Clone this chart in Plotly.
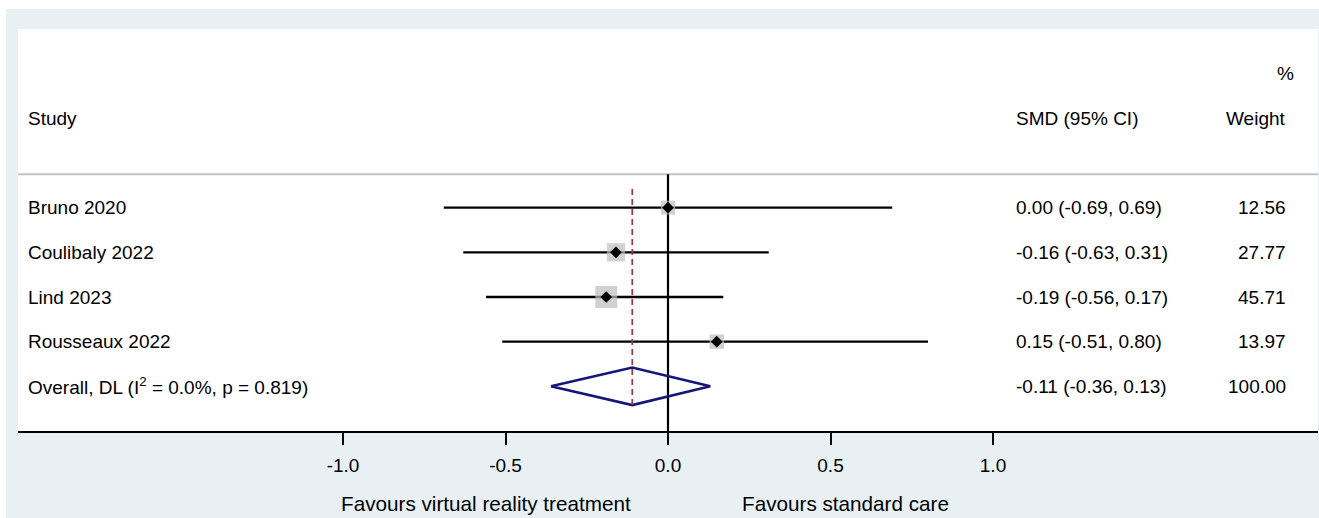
import plotly.graph_objects as go

# ---- data ----
studies = ["Bruno 2020", "Coulibaly 2022", "Lind 2023", "Rousseaux 2022"]
smd = [0.00, -0.16, -0.19, 0.15]
ci_low = [-0.69, -0.63, -0.56, -0.51]
ci_high = [0.69, 0.31, 0.17, 0.80]
weights = [12.56, 27.77, 45.71, 13.97]
overall_label = "Overall, DL (I<sup>2</sup> = 0.0%, p = 0.819)"
overall_smd = -0.11
overall_low = -0.36
overall_high = 0.13
overall_weight = 100.00
tick_vals = [-1.0, -0.5, 0.0, 0.5, 1.0]
left_favour = "Favours virtual reality treatment"
right_favour = "Favours standard care"

# ---- style ----
W, H = 1319, 518
ML, MR, MT, MB = 18, 1, 29, 87
BG = "#e9f0f3"
FONT = "Liberation Sans, Arial, Helvetica, sans-serif"
FS = 19
FS_FAV = 20.7
NAVY = "#15157a"
MAROON = "#a0353b"
SQ = "#bdbdbd"

pw = W - ML - MR
ph = H - MT - MB

def px_x(p):
    return (p - ML) / pw

def px_y(p):
    return (H - MB - p) / ph

n = len(studies)
rows = list(range(n))
ov_row = n

fig = go.Figure()

# CI lines
for i in rows:
    fig.add_trace(go.Scatter(x=[ci_low[i], ci_high[i]], y=[i, i], mode="lines",
                             line=dict(color="black", width=2.4), hoverinfo="skip",
                             showlegend=False))

# weight squares
fig.add_trace(go.Scatter(x=smd, y=rows, mode="markers",
                         marker=dict(symbol="square", color=SQ,
                                     size=[5.2 + 2.48 * (w ** 0.5) for w in weights],
                                     line=dict(width=0)),
                         hoverinfo="skip", showlegend=False))
# point estimates
fig.add_trace(go.Scatter(x=smd, y=rows, mode="markers",
                         marker=dict(symbol="diamond", color="black", size=9,
                                     line=dict(width=0)),
                         hoverinfo="skip", showlegend=False))

# overall diamond
dh = 0.42
fig.add_trace(go.Scatter(x=[overall_low, overall_smd, overall_high, overall_smd, overall_low],
                         y=[ov_row, ov_row - dh, ov_row, ov_row + dh, ov_row],
                         mode="lines", line=dict(color=NAVY, width=2.6),
                         hoverinfo="skip", showlegend=False))

shapes = []
# zero line
shapes.append(dict(type="line", xref="x", yref="y", x0=0, x1=0, y0=-0.75, y1=5.0,
                   line=dict(color="black", width=2.2), layer="below"))
# overall dashed line
shapes.append(dict(type="line", xref="x", yref="y", x0=overall_smd, x1=overall_smd,
                   y0=-0.42, y1=ov_row + dh, line=dict(color=MAROON, width=1.7, dash="6px,4px")))
# header separator
shapes.append(dict(type="line", xref="paper", yref="y", x0=0, x1=1, y0=-0.75, y1=-0.75,
                   line=dict(color="#c4c4c4", width=2), layer="below"))
# white outer strips (left and top)
shapes.append(dict(type="rect", xref="paper", yref="paper", x0=px_x(0), x1=px_x(6),
                   y0=px_y(H), y1=px_y(0), fillcolor="white", line=dict(width=0), layer="below"))
shapes.append(dict(type="rect", xref="paper", yref="paper", x0=px_x(0), x1=px_x(W),
                   y0=px_y(9), y1=px_y(0), fillcolor="white", line=dict(width=0), layer="below"))

annotations = []
def txt(x, y, s, anchor="left", xref="x", yref="y", size=FS):
    annotations.append(dict(x=x, y=y, xref=xref, yref=yref, text=s, showarrow=False,
                            xanchor=anchor, yanchor="middle",
                            font=dict(family=FONT, size=size, color="black")))

x_study = -1.975
x_smd = 1.064
x_wt = 1.908

txt(x_study, -2, "Study")
txt(x_smd, -2, "SMD (95% CI)")
txt(x_wt, -2, "Weight", "right")
txt(1.932, -3, "%", "right")

for i in rows:
    txt(x_study, i, studies[i])
    txt(x_smd, i, f"{smd[i]:.2f} ({ci_low[i]:.2f}, {ci_high[i]:.2f})")
    txt(x_wt, i, f"{weights[i]:.2f}", "right")

txt(x_study, ov_row, overall_label)
txt(x_smd, ov_row, f"{overall_smd:.2f} ({overall_low:.2f}, {overall_high:.2f})")
txt(x_wt, ov_row, f"{overall_weight:.2f}", "right")

txt(-0.108, px_y(503), left_favour, "right", yref="paper", size=FS_FAV)
txt(0.222, px_y(503), right_favour, "left", yref="paper", size=FS_FAV)

fig.update_layout(
    width=W, height=H,
    margin=dict(l=ML, r=MR, t=MT, b=MB, pad=0),
    paper_bgcolor=BG, plot_bgcolor="white",
    shapes=shapes, annotations=annotations,
    font=dict(family=FONT, size=FS, color="black"),
    xaxis=dict(range=[-2.0, 2.0], tickvals=tick_vals,
               ticktext=[f"{v:.1f}" for v in tick_vals],
               ticks="outside", ticklen=12, tickwidth=2, tickcolor="black",
               ticklabelstandoff=4,
               showline=True, linecolor="black", linewidth=2,
               showgrid=False, zeroline=False, fixedrange=True,
               tickfont=dict(family=FONT, size=FS, color="black")),
    yaxis=dict(range=[5.0, -4.0], showgrid=False, zeroline=False,
               showticklabels=False, showline=False, ticks="", fixedrange=True),
    showlegend=False,
)

fig.write_html("out.html", config={"displayModeBar": False},
               post_script="document.body.style.margin='0';document.body.style.overflow='hidden';")
